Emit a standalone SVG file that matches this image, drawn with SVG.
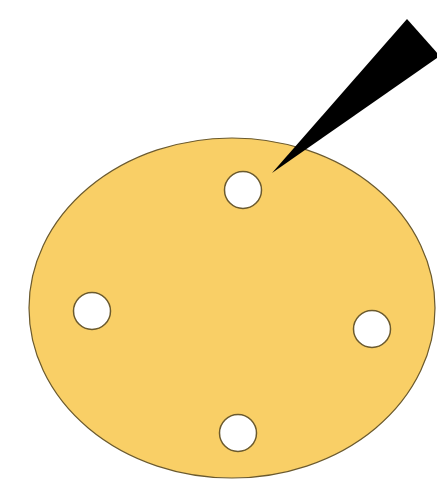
<svg xmlns="http://www.w3.org/2000/svg" width="437" height="489" viewBox="0 0 437 489">
<style>
.hole{fill:#ffffff;stroke:#6b5a2e;stroke-width:1.5}
</style>
<rect width="437" height="489" fill="#ffffff"/>
<g id="disc">
<ellipse cx="232" cy="308" rx="203" ry="170" fill="#f9cf66" stroke="#6b5a2e" stroke-width="1.2"/>
</g>
<g id="hole-top"><circle class="hole" cx="243" cy="190" r="18.5"/></g>
<g id="hole-left"><circle class="hole" cx="92" cy="311" r="18.5"/></g>
<g id="hole-right"><circle class="hole" cx="372" cy="329" r="18.5"/></g>
<g id="hole-bottom"><circle class="hole" cx="238" cy="433" r="18.5"/></g>
<g id="needle"><polygon points="272,173 407,19 440,56" fill="#000000"/></g>
</svg>
